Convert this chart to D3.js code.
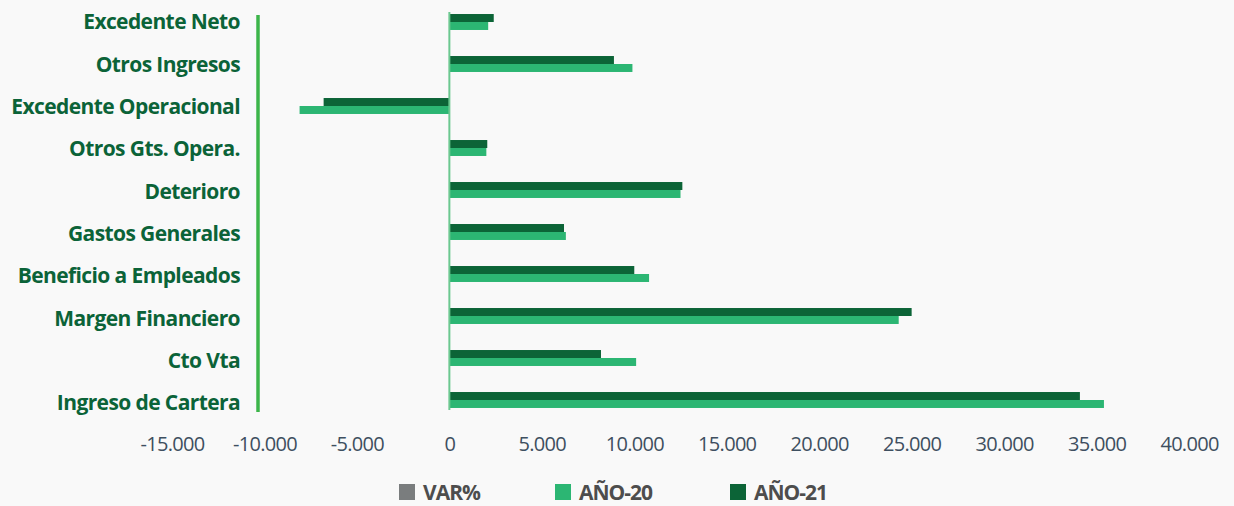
<!DOCTYPE html>
<html>
<head>
<meta charset="utf-8">
<script src="https://cdn.jsdelivr.net/npm/d3@7"></script>
<style>
  body { margin: 0; background: #f9f9f9; }
  svg { display: block; }
</style>
</head>
<body>
<div id="chart"></div>
<script>
// chart size
const width = 1234;
const height = 506;

// data, top row first
const categories = [
  "Excedente Neto", "Otros Ingresos", "Excedente Operacional", "Otros Gts. Opera.",
  "Deterioro", "Gastos Generales", "Beneficio a Empleados", "Margen Financiero",
  "Cto Vta", "Ingreso de Cartera"
];
const anio21 = [2400, 8900, -6800, 2050, 12600, 6200, 10000, 25000, 8200, 34100];
const anio20 = [2100, 9900, -8100, 2000, 12500, 6300, 10800, 24300, 10100, 35400];
const xTicks = [-15000, -10000, -5000, 0, 5000, 10000, 15000, 20000, 25000, 30000, 35000, 40000];
const legendItems = ["VAR%", "AÑO-20", "AÑO-21"];

const colors = {"VAR%": "#7a7d7e", "AÑO-20": "#2cb673", "AÑO-21": "#0c6437"};

const svg = d3.select("#chart")
  .append("svg")
  .attr("width", width)
  .attr("height", height);

// scales
const xScale = d3.scaleLinear()
  .domain([-15000, 40000])
  .range([172, 1189]);

const yScale = d3.scaleBand()
  .domain(categories)
  .range([1, 421])
  .paddingInner(0.62)
  .paddingOuter(0.31);

const ySub = d3.scaleBand()
  .domain(["AÑO-21", "AÑO-20"])
  .range([0, yScale.bandwidth()]);

// labels sit on a slightly longer spacing than the bars
const yLabel = d3.scalePoint()
  .domain(categories)
  .range([22, 403]);

// spanish number format 5.000, plain hyphen for negatives
const fmt = d3.formatLocale({decimal: ",", thousands: ".", grouping: [3], currency: ["$", ""], minus: "-"}).format(",");

// x axis labels only
const xAxis = svg.append("g")
  .attr("transform", "translate(0,437)")
  .call(d3.axisBottom(xScale).tickValues(xTicks).tickFormat(fmt).tickSize(0).tickPadding(0));
xAxis.select(".domain").remove();
xAxis.selectAll("text")
  .attr("fill", "#3e4f60")
  .attr("font-family", "'Open Sans', sans-serif")
  .attr("font-size", "20px")
  .attr("letter-spacing", "-0.7px");

// category labels
svg.append("g")
  .selectAll("text")
  .data(categories)
  .enter()
  .append("text")
    .attr("x", 240)
    .attr("y", d => yLabel(d))
    .attr("dy", "0.35em")
    .attr("text-anchor", "end")
    .attr("fill", "#0b6338")
    .attr("font-family", "'Open Sans', sans-serif")
    .attr("font-weight", "bold")
    .attr("font-size", "21px")
    .attr("letter-spacing", "-0.6px")
    .text(d => d);

// green bar next to the labels
svg.append("line")
  .attr("x1", 258).attr("x2", 258)
  .attr("y1", 15).attr("y2", 412)
  .attr("stroke", "#3cb54a")
  .attr("stroke-width", 3.5);

// bars
const rows = categories.map((c, i) => ({name: c, "AÑO-21": anio21[i], "AÑO-20": anio20[i]}));

const groups = svg.append("g")
  .selectAll("g")
  .data(rows)
  .enter()
  .append("g")
    .attr("transform", d => `translate(0,${yScale(d.name)})`);

groups.selectAll("rect")
  .data(d => ["AÑO-21", "AÑO-20"].map(k => ({key: k, value: d[k]})))
  .enter()
  .append("rect")
    .attr("x", d => xScale(Math.min(0, d.value)))
    .attr("y", d => ySub(d.key))
    .attr("width", d => Math.abs(xScale(d.value) - xScale(0)))
    .attr("height", ySub.bandwidth())
    .attr("fill", d => colors[d.key]);

// zero line
svg.append("line")
  .attr("x1", xScale(0)).attr("x2", xScale(0))
  .attr("y1", 12).attr("y2", 410)
  .attr("stroke", "#6cc890")
  .attr("stroke-width", 2);

// legend
const legendX = [399, 555, 730];
const legend = svg.append("g")
  .selectAll("g")
  .data(legendItems)
  .enter()
  .append("g")
    .attr("transform", (d, i) => `translate(${legendX[i]},484)`);

legend.append("rect")
  .attr("width", 16)
  .attr("height", 16)
  .attr("fill", d => colors[d]);

legend.append("text")
  .attr("x", 24)
  .attr("y", 8)
  .attr("dy", "0.36em")
  .attr("fill", "#4d4d4d")
  .attr("font-family", "'Open Sans', sans-serif")
  .attr("font-weight", "bold")
  .attr("font-size", "21px")
  .attr("letter-spacing", "-1px")
  .text(d => d);
</script>
</body>
</html>
